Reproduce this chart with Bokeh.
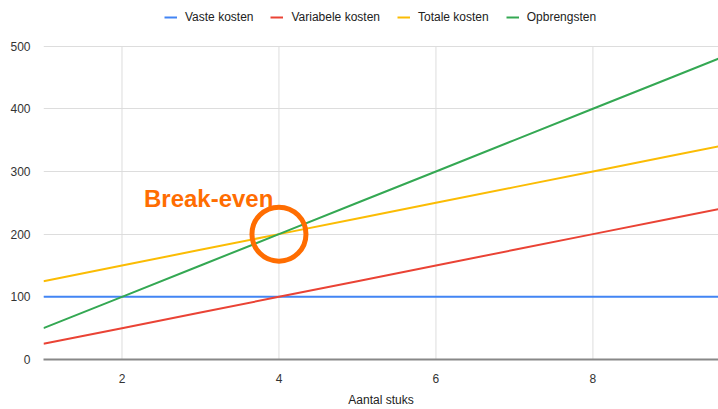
from bokeh.plotting import figure
from bokeh.models import Legend, LegendItem, Label, FixedTicker, Range1d
from bokeh.embed import file_html
from bokeh.resources import INLINE

aantal = [1, 2, 3, 4, 5, 6, 7, 8, 9, 9.6]
vaste_kosten = [100, 100, 100, 100, 100, 100, 100, 100, 100, 100]
variabele_kosten = [25, 50, 75, 100, 125, 150, 175, 200, 225, 240]
totale_kosten = [125, 150, 175, 200, 225, 250, 275, 300, 325, 340]
opbrengsten = [50, 100, 150, 200, 250, 300, 350, 400, 450, 480]
series_names = ["Vaste kosten", "Variabele kosten", "Totale kosten", "Opbrengsten"]
x_ticks = [2, 4, 6, 8]
y_ticks = [0, 100, 200, 300, 400, 500]
break_even_x = [4]
break_even_y = [200]
annotation_text = "Break-even"

colors = ["#4285F4", "#EA4335", "#FBBC04", "#34A853"]
FONT = "Liberation Sans"

# extra headroom above 500 holds the legend inside the frame
p = figure(width=718, height=409, output_backend="svg", toolbar_location=None,
           x_range=Range1d(1, 9.6), y_range=Range1d(0, 560),
           min_border_left=43, min_border_right=0, min_border_top=8, min_border_bottom=49)
p.outline_line_color = None

# vertical grid lines only up to the top value tick
p.xgrid.visible = False
p.segment(x0=x_ticks, y0=[y_ticks[0]] * len(x_ticks), x1=x_ticks, y1=[y_ticks[-1]] * len(x_ticks),
          line_color="#DDDDDD", line_width=1)

items = []
for name, ys, c in zip(series_names, [vaste_kosten, variabele_kosten, totale_kosten, opbrengsten], colors):
    r = p.line(aantal, ys, line_color=c, line_width=2)
    items.append(LegendItem(label=name, renderers=[r]))

# break-even circle
p.scatter(break_even_x, break_even_y, size=54, fill_color=None, line_color="#FF6D01", line_width=5)
p.add_layout(Label(x=break_even_x[0], y=break_even_y[0], text=annotation_text, x_offset=-135, y_offset=36,
                   text_baseline="alphabetic", text_align="left",
                   text_font=FONT, text_font_style="bold", text_font_size="24px", text_color="#FF6D01"))

legend = Legend(items=items, orientation="horizontal", location=(121, 335),
                label_text_font=FONT, label_text_font_size="12px", label_text_color="#222222",
                glyph_width=13, glyph_height=8, label_standoff=8, spacing=17,
                padding=2, margin=0, border_line_color=None, background_fill_alpha=0,
                label_height=12)
p.add_layout(legend, "center")

p.yaxis.ticker = FixedTicker(ticks=y_ticks)
p.xaxis.ticker = FixedTicker(ticks=x_ticks)
p.ygrid.ticker = FixedTicker(ticks=y_ticks)
p.ygrid.grid_line_color = "#DDDDDD"
p.ygrid.grid_line_width = 1

for ax in (p.xaxis, p.yaxis):
    ax.major_tick_line_color = None
    ax.minor_tick_line_color = None
    ax.major_label_text_font = FONT
    ax.major_label_text_font_size = "12px"
    ax.major_label_text_color = "#333333"
p.yaxis.axis_line_color = None
p.yaxis.major_label_standoff = 7
p.xaxis.axis_line_color = "#888888"
p.xaxis.axis_line_width = 2
p.xaxis.major_label_standoff = 8
p.xaxis.axis_label = "Aantal stuks"
p.xaxis.axis_label_text_font = FONT
p.xaxis.axis_label_text_font_size = "12px"
p.xaxis.axis_label_text_font_style = "normal"
p.xaxis.axis_label_text_color = "#222222"
p.xaxis.axis_label_standoff = 7

open("out.html", "w").write(file_html(p, INLINE))
